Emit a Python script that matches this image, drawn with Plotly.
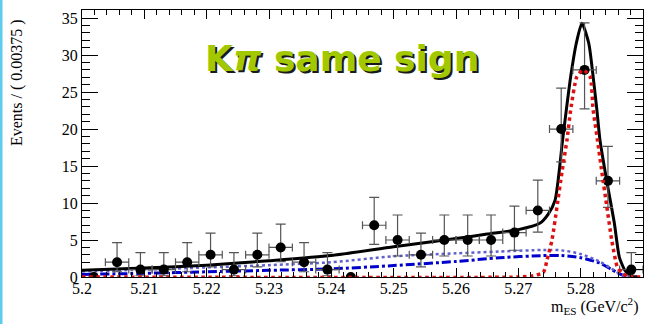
import plotly.graph_objects as go

# ---- data ----
bin_centers = [5.201875, 5.205625, 5.209375, 5.213125, 5.216875, 5.220625, 5.224375, 5.228125,
               5.231875, 5.235625, 5.239375, 5.243125, 5.246875, 5.250625, 5.254375, 5.258125,
               5.261875, 5.265625, 5.269375, 5.273125, 5.276875, 5.280625, 5.284375, 5.288125]
counts = [0, 2, 1, 1, 2, 3, 1, 3, 4, 2, 1, 0, 7, 5, 3, 5, 5, 5, 6, 9, 20, 28, 13, 1]
err_up = [0, 2.64, 2.30, 2.30, 2.64, 2.92, 2.30, 2.92, 3.16, 2.64, 2.30, 0,
          3.77, 3.38, 2.92, 3.38, 3.38, 3.38, 3.58, 4.11, 5.55, 6.36, 4.67, 2.30]
err_dn = [0, 1.29, 0.83, 0.83, 1.29, 1.63, 0.83, 1.63, 1.91, 1.29, 0.83, 0,
          2.58, 2.16, 1.63, 2.16, 2.16, 2.16, 2.38, 2.94, 4.43, 5.27, 3.58, 0.83]
half_bin = [0, 0.001875, 0.001875, 0.001875, 0.001875, 0.001875, 0.001875, 0.001875,
            0.001875, 0.001875, 0.001875, 0, 0.001875, 0.001875, 0.001875, 0.001875,
            0.001875, 0.001875, 0.001875, 0.001875, 0.001875, 0.001875, 0.001875, 0.001875]

total_x = [5.2000, 5.2100, 5.2200, 5.2300, 5.2400, 5.2500, 5.2600, 5.2650, 5.2700, 5.2735,
           5.2748, 5.2759, 5.2771, 5.2777, 5.2784, 5.2793, 5.2802, 5.2813, 5.2820, 5.2826,
           5.2831, 5.2842, 5.2854, 5.2862, 5.2871, 5.2879, 5.2890]
total_y = [0.9, 1.2, 1.6, 2.2, 2.9, 4.1, 5.2, 5.8, 6.4, 7.3,
           8.5, 10.4, 18.5, 22.6, 27.1, 31.6, 34.3, 31.6, 27.1, 22.6,
           18.5, 12.9, 7.3, 2.7, 0.9, 0.3, 0.0]

sig_x = [5.2000, 5.2700, 5.2722, 5.2740, 5.2746, 5.2754, 5.2762, 5.2770, 5.2778, 5.2784,
         5.2794, 5.2804, 5.2815, 5.2820, 5.2827, 5.2834, 5.2842, 5.2850, 5.2859, 5.2866,
         5.2875, 5.2900]
sig_y = [0.0, 0.0, 0.15, 0.6, 2.3, 5.0, 9.5, 14.2, 18.5, 22.6,
         27.1, 28.0, 27.1, 22.6, 18.5, 14.2, 9.5, 4.9, 1.3, 0.6,
         0.1, 0.0]

bkg1_x = [5.2000, 5.2100, 5.2200, 5.2300, 5.2400, 5.2500, 5.2600, 5.2670, 5.2740, 5.2770,
          5.2800, 5.2830, 5.2850, 5.2866, 5.2890]
bkg1_y = [0.75, 1.0, 1.3, 1.6, 2.0, 2.8, 3.2, 3.45, 3.65, 3.6, 3.1, 2.1, 1.1, 0.3, 0.0]

bkg2_x = [5.2000, 5.2100, 5.2200, 5.2300, 5.2400, 5.2500, 5.2600, 5.2670, 5.2740, 5.2770,
          5.2800, 5.2830, 5.2850, 5.2866, 5.2890]
bkg2_y = [0.35, 0.5, 0.7, 0.9, 1.1, 1.55, 2.1, 2.6, 2.9, 2.9, 2.6, 1.9, 1.0, 0.3, 0.0]

x_ticks = [5.20, 5.21, 5.22, 5.23, 5.24, 5.25, 5.26, 5.27, 5.28, 5.29]
x_tick_text = ["5.2", "5.21", "5.22", "5.23", "5.24", "5.25", "5.26", "5.27", "5.28", "5.29"]
y_ticks = [0, 5, 10, 15, 20, 25, 30, 35]

# ---- figure ----
W, H = 655, 324
ML, MR, MT, MB = 82, 12, 10, 47
PW, PH = W - ML - MR, H - MT - MB
SERIF = "Liberation Serif, Times New Roman, serif"

def px(xp):
    return (xp - ML) / PW

def py(yp):
    return (H - MB - yp) / PH

fig = go.Figure()

fig.add_trace(go.Scatter(x=bkg2_x, y=bkg2_y, mode="lines", line=dict(color="#0000cc", width=3, dash="dashdot", shape="spline", smoothing=0.8), hoverinfo="skip"))
fig.add_trace(go.Scatter(x=bkg1_x, y=bkg1_y, mode="lines", line=dict(color="#6060d0", width=2.5, dash="dot", shape="spline", smoothing=0.8), hoverinfo="skip"))
fig.add_trace(go.Scatter(x=total_x, y=total_y, mode="lines", line=dict(color="black", width=3, shape="spline", smoothing=0.6), hoverinfo="skip"))
fig.add_trace(go.Scatter(
    x=bin_centers, y=counts, mode="markers",
    marker=dict(color="black", size=10),
    error_y=dict(type="data", symmetric=False, array=err_up, arrayminus=err_dn, color="#555555", thickness=1.2, width=5),
    error_x=dict(type="data", array=half_bin, color="#555555", thickness=1.2, width=4),
))
fig.add_trace(go.Scatter(x=sig_x, y=sig_y, mode="lines", line=dict(color="#dd1111", width=3.5, dash="dot", shape="spline", smoothing=0.6), hoverinfo="skip"))

fig.update_layout(
    width=W, height=H, margin=dict(l=ML, r=MR, t=MT, b=MB, autoexpand=False),
    paper_bgcolor="white", plot_bgcolor="white", showlegend=False,
    font=dict(family=SERIF, size=16, color="black"),
)
fig.update_xaxes(
    range=[5.2, 5.29], showgrid=False, zeroline=False, automargin=False,
    showline=True, linecolor="black", linewidth=1, mirror="ticks",
    ticks="inside", ticklen=9, tickcolor="black", tickwidth=1,
    tickvals=x_ticks, ticktext=x_tick_text, ticklabelstandoff=-3,
    tickfont=dict(family=SERIF, size=16, color="black"),
    minor=dict(dtick=0.002, tick0=5.2, ticks="inside", ticklen=5, tickcolor="black", showgrid=False),
)
fig.update_yaxes(
    range=[0, 36.1], showgrid=False, zeroline=False, automargin=False,
    showline=True, linecolor="black", linewidth=1, mirror="ticks",
    ticks="inside", ticklen=16, tickcolor="black", tickwidth=1,
    tickvals=y_ticks,
    tickfont=dict(family=SERIF, size=16, color="black"),
    minor=dict(dtick=1, tick0=0, ticks="inside", ticklen=8, tickcolor="black", showgrid=False),
)

# left cyan strip
fig.add_shape(type="rect", xref="paper", yref="paper", x0=px(0), x1=px(2.5), y0=py(H), y1=py(0),
              fillcolor="#5ccbec", line=dict(width=0), layer="above")

# title with shadow
title = "K<i>π</i> same sign"
fig.add_annotation(text=title, xref="paper", yref="paper", x=px(344), y=py(60), showarrow=False,
                   xanchor="center", yanchor="middle",
                   font=dict(family="DejaVu Sans", size=36, color="#1a1a1a", weight="bold"))
fig.add_annotation(text=title, xref="paper", yref="paper", x=px(342), y=py(58), showarrow=False,
                   xanchor="center", yanchor="middle",
                   font=dict(family="DejaVu Sans", size=36, color="#a2c800", weight="bold"))

# axis titles
fig.add_annotation(text="Events / ( 0.00375 )", xref="paper", yref="paper", x=px(17), y=py(83),
                   xanchor="center", yanchor="middle",
                   textangle=-90, showarrow=False, font=dict(family=SERIF, size=16, color="black"))
fig.add_annotation(text="m<sub>ES</sub> (GeV/c<sup>2</sup>)", xref="paper", yref="paper", x=px(641), y=py(306),
                   xanchor="right", yanchor="middle", showarrow=False,
                   font=dict(family=SERIF, size=16, color="black"))

fig.write_html("out.html", config={"displayModeBar": False},
               post_script="document.body.style.margin='0px';document.body.style.padding='0px';")
